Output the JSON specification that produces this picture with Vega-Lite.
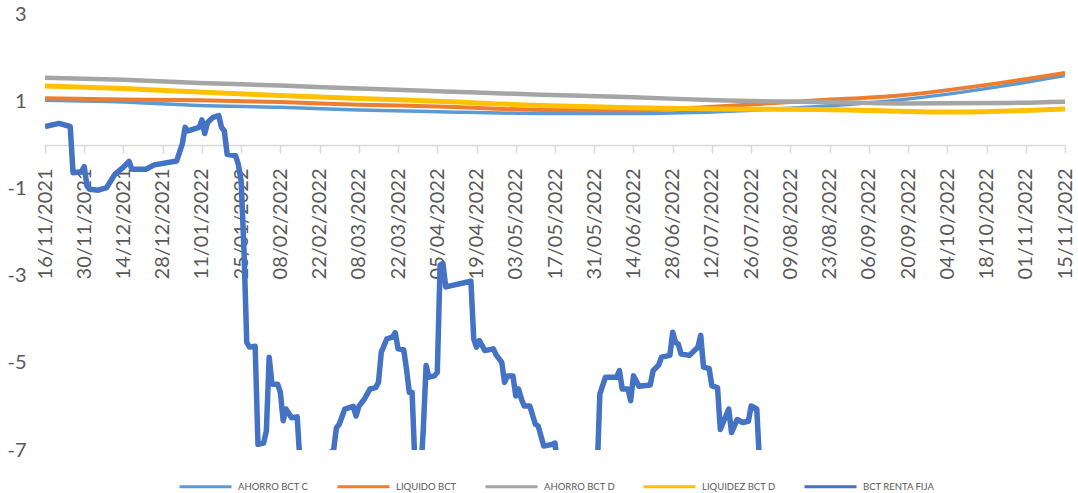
{
  "$schema": "https://vega.github.io/schema/vega-lite/v6.json",
  "width": 1020,
  "height": 436,
  "autosize": "none",
  "padding": {"left": 45, "top": 14, "right": 13, "bottom": 43},
  "config": {"view": {"stroke": null}, "font": "Lato", "axis": {"labelOverlap": false, "labelSeparation": 0}},
  "datasets": {
    "smooth": [
      {"date": "2021-11-16", "series": "AHORRO BCT C", "value": 1.02},
      {"date": "2021-12-14", "series": "AHORRO BCT C", "value": 0.98},
      {"date": "2022-01-10", "series": "AHORRO BCT C", "value": 0.90},
      {"date": "2022-02-08", "series": "AHORRO BCT C", "value": 0.86},
      {"date": "2022-03-08", "series": "AHORRO BCT C", "value": 0.80},
      {"date": "2022-04-05", "series": "AHORRO BCT C", "value": 0.76},
      {"date": "2022-05-12", "series": "AHORRO BCT C", "value": 0.72},
      {"date": "2022-06-14", "series": "AHORRO BCT C", "value": 0.72},
      {"date": "2022-07-14", "series": "AHORRO BCT C", "value": 0.76},
      {"date": "2022-08-19", "series": "AHORRO BCT C", "value": 0.88},
      {"date": "2022-09-17", "series": "AHORRO BCT C", "value": 1.03},
      {"date": "2022-10-23", "series": "AHORRO BCT C", "value": 1.34},
      {"date": "2022-11-15", "series": "AHORRO BCT C", "value": 1.59},
      {"date": "2021-11-16", "series": "LIQUIDO BCT", "value": 1.07},
      {"date": "2021-12-14", "series": "LIQUIDO BCT", "value": 1.04},
      {"date": "2022-01-10", "series": "LIQUIDO BCT", "value": 1.02},
      {"date": "2022-02-08", "series": "LIQUIDO BCT", "value": 0.98},
      {"date": "2022-03-08", "series": "LIQUIDO BCT", "value": 0.92},
      {"date": "2022-04-05", "series": "LIQUIDO BCT", "value": 0.88},
      {"date": "2022-05-12", "series": "LIQUIDO BCT", "value": 0.80},
      {"date": "2022-06-14", "series": "LIQUIDO BCT", "value": 0.79},
      {"date": "2022-07-14", "series": "LIQUIDO BCT", "value": 0.88},
      {"date": "2022-08-19", "series": "LIQUIDO BCT", "value": 1.02},
      {"date": "2022-09-17", "series": "LIQUIDO BCT", "value": 1.13},
      {"date": "2022-10-23", "series": "LIQUIDO BCT", "value": 1.42},
      {"date": "2022-11-15", "series": "LIQUIDO BCT", "value": 1.65},
      {"date": "2021-11-16", "series": "AHORRO BCT D", "value": 1.54},
      {"date": "2021-12-14", "series": "AHORRO BCT D", "value": 1.49},
      {"date": "2022-01-10", "series": "AHORRO BCT D", "value": 1.42},
      {"date": "2022-02-08", "series": "AHORRO BCT D", "value": 1.36},
      {"date": "2022-03-08", "series": "AHORRO BCT D", "value": 1.29},
      {"date": "2022-04-05", "series": "AHORRO BCT D", "value": 1.23},
      {"date": "2022-05-12", "series": "AHORRO BCT D", "value": 1.15},
      {"date": "2022-06-14", "series": "AHORRO BCT D", "value": 1.09},
      {"date": "2022-07-14", "series": "AHORRO BCT D", "value": 1.02},
      {"date": "2022-08-19", "series": "AHORRO BCT D", "value": 0.98},
      {"date": "2022-09-17", "series": "AHORRO BCT D", "value": 0.95},
      {"date": "2022-10-23", "series": "AHORRO BCT D", "value": 0.96},
      {"date": "2022-11-15", "series": "AHORRO BCT D", "value": 0.99},
      {"date": "2021-11-16", "series": "LIQUIDEZ BCT D", "value": 1.35},
      {"date": "2021-12-14", "series": "LIQUIDEZ BCT D", "value": 1.29},
      {"date": "2022-01-10", "series": "LIQUIDEZ BCT D", "value": 1.21},
      {"date": "2022-02-08", "series": "LIQUIDEZ BCT D", "value": 1.13},
      {"date": "2022-03-08", "series": "LIQUIDEZ BCT D", "value": 1.06},
      {"date": "2022-04-05", "series": "LIQUIDEZ BCT D", "value": 1.00},
      {"date": "2022-05-12", "series": "LIQUIDEZ BCT D", "value": 0.90},
      {"date": "2022-06-14", "series": "LIQUIDEZ BCT D", "value": 0.85},
      {"date": "2022-07-14", "series": "LIQUIDEZ BCT D", "value": 0.82},
      {"date": "2022-08-19", "series": "LIQUIDEZ BCT D", "value": 0.81},
      {"date": "2022-09-17", "series": "LIQUIDEZ BCT D", "value": 0.77},
      {"date": "2022-10-01", "series": "LIQUIDEZ BCT D", "value": 0.75},
      {"date": "2022-10-23", "series": "LIQUIDEZ BCT D", "value": 0.77},
      {"date": "2022-11-15", "series": "LIQUIDEZ BCT D", "value": 0.82}
    ],
    "renta": [
      {"date": "2021-11-16", "series": "BCT RENTA FIJA", "value": 0.42},
      {"date": "2021-11-21", "series": "BCT RENTA FIJA", "value": 0.49},
      {"date": "2021-11-25", "series": "BCT RENTA FIJA", "value": 0.42},
      {"date": "2021-11-26", "series": "BCT RENTA FIJA", "value": -0.64},
      {"date": "2021-11-29", "series": "BCT RENTA FIJA", "value": -0.62},
      {"date": "2021-11-30", "series": "BCT RENTA FIJA", "value": -0.5},
      {"date": "2021-12-01", "series": "BCT RENTA FIJA", "value": -0.95},
      {"date": "2021-12-02", "series": "BCT RENTA FIJA", "value": -1.02},
      {"date": "2021-12-05", "series": "BCT RENTA FIJA", "value": -1.04},
      {"date": "2021-12-08", "series": "BCT RENTA FIJA", "value": -0.98},
      {"date": "2021-12-11", "series": "BCT RENTA FIJA", "value": -0.67},
      {"date": "2021-12-14", "series": "BCT RENTA FIJA", "value": -0.51},
      {"date": "2021-12-16", "series": "BCT RENTA FIJA", "value": -0.38},
      {"date": "2021-12-17", "series": "BCT RENTA FIJA", "value": -0.56},
      {"date": "2021-12-22", "series": "BCT RENTA FIJA", "value": -0.56},
      {"date": "2021-12-25", "series": "BCT RENTA FIJA", "value": -0.46},
      {"date": "2022-01-02", "series": "BCT RENTA FIJA", "value": -0.37},
      {"date": "2022-01-04", "series": "BCT RENTA FIJA", "value": 0.02},
      {"date": "2022-01-05", "series": "BCT RENTA FIJA", "value": 0.4},
      {"date": "2022-01-06", "series": "BCT RENTA FIJA", "value": 0.32},
      {"date": "2022-01-10", "series": "BCT RENTA FIJA", "value": 0.4},
      {"date": "2022-01-11", "series": "BCT RENTA FIJA", "value": 0.57},
      {"date": "2022-01-12", "series": "BCT RENTA FIJA", "value": 0.26},
      {"date": "2022-01-13", "series": "BCT RENTA FIJA", "value": 0.51},
      {"date": "2022-01-15", "series": "BCT RENTA FIJA", "value": 0.63},
      {"date": "2022-01-17", "series": "BCT RENTA FIJA", "value": 0.67},
      {"date": "2022-01-18", "series": "BCT RENTA FIJA", "value": 0.4},
      {"date": "2022-01-19", "series": "BCT RENTA FIJA", "value": 0.32},
      {"date": "2022-01-20", "series": "BCT RENTA FIJA", "value": -0.22},
      {"date": "2022-01-23", "series": "BCT RENTA FIJA", "value": -0.25},
      {"date": "2022-01-24", "series": "BCT RENTA FIJA", "value": -0.45},
      {"date": "2022-01-25", "series": "BCT RENTA FIJA", "value": -0.83},
      {"date": "2022-01-26", "series": "BCT RENTA FIJA", "value": -2.4},
      {"date": "2022-01-27", "series": "BCT RENTA FIJA", "value": -4.53},
      {"date": "2022-01-28", "series": "BCT RENTA FIJA", "value": -4.64},
      {"date": "2022-01-30", "series": "BCT RENTA FIJA", "value": -4.62},
      {"date": "2022-01-31", "series": "BCT RENTA FIJA", "value": -6.87},
      {"date": "2022-02-02", "series": "BCT RENTA FIJA", "value": -6.84},
      {"date": "2022-02-03", "series": "BCT RENTA FIJA", "value": -6.56},
      {"date": "2022-02-04", "series": "BCT RENTA FIJA", "value": -4.87},
      {"date": "2022-02-05", "series": "BCT RENTA FIJA", "value": -5.49},
      {"date": "2022-02-07", "series": "BCT RENTA FIJA", "value": -5.49},
      {"date": "2022-02-08", "series": "BCT RENTA FIJA", "value": -5.68},
      {"date": "2022-02-09", "series": "BCT RENTA FIJA", "value": -6.33},
      {"date": "2022-02-10", "series": "BCT RENTA FIJA", "value": -6.06},
      {"date": "2022-02-12", "series": "BCT RENTA FIJA", "value": -6.26},
      {"date": "2022-02-14", "series": "BCT RENTA FIJA", "value": -6.24},
      {"date": "2022-02-15", "series": "BCT RENTA FIJA", "value": -7.3},
      {"date": "2022-02-17", "series": "BCT RENTA FIJA", "value": -7.8},
      {"date": "2022-02-23", "series": "BCT RENTA FIJA", "value": -7.6},
      {"date": "2022-02-25", "series": "BCT RENTA FIJA", "value": -7.1},
      {"date": "2022-02-27", "series": "BCT RENTA FIJA", "value": -7.0},
      {"date": "2022-02-28", "series": "BCT RENTA FIJA", "value": -6.49},
      {"date": "2022-03-01", "series": "BCT RENTA FIJA", "value": -6.41},
      {"date": "2022-03-03", "series": "BCT RENTA FIJA", "value": -6.06},
      {"date": "2022-03-06", "series": "BCT RENTA FIJA", "value": -6.0},
      {"date": "2022-03-07", "series": "BCT RENTA FIJA", "value": -6.22},
      {"date": "2022-03-08", "series": "BCT RENTA FIJA", "value": -6.0},
      {"date": "2022-03-10", "series": "BCT RENTA FIJA", "value": -5.83},
      {"date": "2022-03-12", "series": "BCT RENTA FIJA", "value": -5.6},
      {"date": "2022-03-14", "series": "BCT RENTA FIJA", "value": -5.57},
      {"date": "2022-03-15", "series": "BCT RENTA FIJA", "value": -5.45},
      {"date": "2022-03-16", "series": "BCT RENTA FIJA", "value": -4.76},
      {"date": "2022-03-18", "series": "BCT RENTA FIJA", "value": -4.45},
      {"date": "2022-03-20", "series": "BCT RENTA FIJA", "value": -4.41},
      {"date": "2022-03-21", "series": "BCT RENTA FIJA", "value": -4.31},
      {"date": "2022-03-22", "series": "BCT RENTA FIJA", "value": -4.68},
      {"date": "2022-03-24", "series": "BCT RENTA FIJA", "value": -4.7},
      {"date": "2022-03-25", "series": "BCT RENTA FIJA", "value": -5.14},
      {"date": "2022-03-26", "series": "BCT RENTA FIJA", "value": -5.68},
      {"date": "2022-03-27", "series": "BCT RENTA FIJA", "value": -5.68},
      {"date": "2022-03-28", "series": "BCT RENTA FIJA", "value": -7.3},
      {"date": "2022-03-30", "series": "BCT RENTA FIJA", "value": -7.6},
      {"date": "2022-03-31", "series": "BCT RENTA FIJA", "value": -6.53},
      {"date": "2022-04-01", "series": "BCT RENTA FIJA", "value": -5.06},
      {"date": "2022-04-02", "series": "BCT RENTA FIJA", "value": -5.33},
      {"date": "2022-04-04", "series": "BCT RENTA FIJA", "value": -5.3},
      {"date": "2022-04-05", "series": "BCT RENTA FIJA", "value": -5.22},
      {"date": "2022-04-06", "series": "BCT RENTA FIJA", "value": -2.76},
      {"date": "2022-04-07", "series": "BCT RENTA FIJA", "value": -2.72},
      {"date": "2022-04-08", "series": "BCT RENTA FIJA", "value": -3.26},
      {"date": "2022-04-17", "series": "BCT RENTA FIJA", "value": -3.13},
      {"date": "2022-04-18", "series": "BCT RENTA FIJA", "value": -4.45},
      {"date": "2022-04-19", "series": "BCT RENTA FIJA", "value": -4.64},
      {"date": "2022-04-20", "series": "BCT RENTA FIJA", "value": -4.49},
      {"date": "2022-04-22", "series": "BCT RENTA FIJA", "value": -4.72},
      {"date": "2022-04-25", "series": "BCT RENTA FIJA", "value": -4.68},
      {"date": "2022-04-26", "series": "BCT RENTA FIJA", "value": -4.82},
      {"date": "2022-04-28", "series": "BCT RENTA FIJA", "value": -4.99},
      {"date": "2022-04-29", "series": "BCT RENTA FIJA", "value": -5.45},
      {"date": "2022-04-30", "series": "BCT RENTA FIJA", "value": -5.3},
      {"date": "2022-05-02", "series": "BCT RENTA FIJA", "value": -5.3},
      {"date": "2022-05-03", "series": "BCT RENTA FIJA", "value": -5.76},
      {"date": "2022-05-04", "series": "BCT RENTA FIJA", "value": -5.6},
      {"date": "2022-05-05", "series": "BCT RENTA FIJA", "value": -5.83},
      {"date": "2022-05-06", "series": "BCT RENTA FIJA", "value": -5.99},
      {"date": "2022-05-08", "series": "BCT RENTA FIJA", "value": -5.99},
      {"date": "2022-05-10", "series": "BCT RENTA FIJA", "value": -6.41},
      {"date": "2022-05-11", "series": "BCT RENTA FIJA", "value": -6.45},
      {"date": "2022-05-13", "series": "BCT RENTA FIJA", "value": -6.91},
      {"date": "2022-05-16", "series": "BCT RENTA FIJA", "value": -6.87},
      {"date": "2022-05-17", "series": "BCT RENTA FIJA", "value": -6.84},
      {"date": "2022-05-18", "series": "BCT RENTA FIJA", "value": -7.4},
      {"date": "2022-05-22", "series": "BCT RENTA FIJA", "value": -8.0},
      {"date": "2022-05-30", "series": "BCT RENTA FIJA", "value": -8.0},
      {"date": "2022-06-01", "series": "BCT RENTA FIJA", "value": -7.6},
      {"date": "2022-06-02", "series": "BCT RENTA FIJA", "value": -5.72},
      {"date": "2022-06-04", "series": "BCT RENTA FIJA", "value": -5.33},
      {"date": "2022-06-06", "series": "BCT RENTA FIJA", "value": -5.33},
      {"date": "2022-06-08", "series": "BCT RENTA FIJA", "value": -5.33},
      {"date": "2022-06-09", "series": "BCT RENTA FIJA", "value": -5.18},
      {"date": "2022-06-10", "series": "BCT RENTA FIJA", "value": -5.6},
      {"date": "2022-06-12", "series": "BCT RENTA FIJA", "value": -5.6},
      {"date": "2022-06-13", "series": "BCT RENTA FIJA", "value": -5.87},
      {"date": "2022-06-14", "series": "BCT RENTA FIJA", "value": -5.3},
      {"date": "2022-06-16", "series": "BCT RENTA FIJA", "value": -5.54},
      {"date": "2022-06-20", "series": "BCT RENTA FIJA", "value": -5.51},
      {"date": "2022-06-21", "series": "BCT RENTA FIJA", "value": -5.18},
      {"date": "2022-06-23", "series": "BCT RENTA FIJA", "value": -5.05},
      {"date": "2022-06-24", "series": "BCT RENTA FIJA", "value": -4.87},
      {"date": "2022-06-27", "series": "BCT RENTA FIJA", "value": -4.83},
      {"date": "2022-06-28", "series": "BCT RENTA FIJA", "value": -4.3},
      {"date": "2022-06-29", "series": "BCT RENTA FIJA", "value": -4.53},
      {"date": "2022-06-30", "series": "BCT RENTA FIJA", "value": -4.57},
      {"date": "2022-07-01", "series": "BCT RENTA FIJA", "value": -4.8},
      {"date": "2022-07-04", "series": "BCT RENTA FIJA", "value": -4.83},
      {"date": "2022-07-07", "series": "BCT RENTA FIJA", "value": -4.64},
      {"date": "2022-07-08", "series": "BCT RENTA FIJA", "value": -4.37},
      {"date": "2022-07-09", "series": "BCT RENTA FIJA", "value": -5.1},
      {"date": "2022-07-11", "series": "BCT RENTA FIJA", "value": -5.13},
      {"date": "2022-07-12", "series": "BCT RENTA FIJA", "value": -5.53},
      {"date": "2022-07-14", "series": "BCT RENTA FIJA", "value": -5.57},
      {"date": "2022-07-15", "series": "BCT RENTA FIJA", "value": -6.53},
      {"date": "2022-07-18", "series": "BCT RENTA FIJA", "value": -6.06},
      {"date": "2022-07-19", "series": "BCT RENTA FIJA", "value": -6.6},
      {"date": "2022-07-21", "series": "BCT RENTA FIJA", "value": -6.3},
      {"date": "2022-07-23", "series": "BCT RENTA FIJA", "value": -6.37},
      {"date": "2022-07-25", "series": "BCT RENTA FIJA", "value": -6.34},
      {"date": "2022-07-26", "series": "BCT RENTA FIJA", "value": -5.99},
      {"date": "2022-07-28", "series": "BCT RENTA FIJA", "value": -6.06},
      {"date": "2022-07-29", "series": "BCT RENTA FIJA", "value": -7.3},
      {"date": "2022-07-30", "series": "BCT RENTA FIJA", "value": -8.0}
    ]
  },
  "encoding": {
    "x": {
      "field": "date", "type": "temporal",
      "scale": {"type": "utc", "domain": [1637020800000, 1668470400000]},
      "axis": {
        "title": null,
        "offset": -305,
        "values": [1637020800000, 1638230400000, 1639440000000, 1640649600000, 1641859200000, 1643068800000, 1644278400000, 1645488000000, 1646697600000, 1647907200000, 1649116800000, 1650326400000, 1651536000000, 1652745600000, 1653955200000, 1655164800000, 1656374400000, 1657584000000, 1658793600000, 1660003200000, 1661212800000, 1662422400000, 1663632000000, 1664841600000, 1666051200000, 1667260800000, 1668470400000],
        "labelExpr": "utcFormat(datum.value, '%d/%m/%Y')",
        "labelAngle": -90,
        "labelFont": "Lato",
        "labelFontSize": 20,
        "labelColor": "#595959",
        "labelPadding": 15,
        "labelFlush": false,
        "labelOverlap": false,
        "labelSeparation": 0,
        "grid": false,
        "domainColor": "#d9d9d9",
        "domainWidth": 1.5,
        "tickColor": "#d9d9d9",
        "tickWidth": 1.5,
        "tickSize": 8
      }
    },
    "y": {
      "field": "value", "type": "quantitative",
      "scale": {"domain": [-7, 3], "nice": false, "zero": false},
      "axis": {
        "title": null,
        "values": [-7, -5, -3, -1, 1, 3],
        "labelExpr": "(datum.value < 0 ? '-' : '') + abs(datum.value)",
        "domain": false,
        "ticks": false,
        "grid": false,
        "labelFont": "Lato",
        "labelFontSize": 20,
        "labelColor": "#595959",
        "labelPadding": 19
      }
    },
    "color": {
      "field": "series", "type": "nominal",
      "scale": {
        "domain": ["AHORRO BCT C", "LIQUIDO BCT", "AHORRO BCT D", "LIQUIDEZ BCT D", "BCT RENTA FIJA"],
        "range": ["#5B9BD5", "#ED7D31", "#A5A5A5", "#FFC000", "#4472C4"]
      },
      "legend": {
        "title": null,
        "orient": "none",
        "legendX": 133,
        "legendY": 445,
        "direction": "horizontal",
        "symbolType": "stroke",
        "symbolSize": 2704,
        "symbolStrokeWidth": 3,
        "labelFont": "Lato",
        "labelFontSize": 9.5,
        "labelColor": "#595959",
        "labelOffset": 5,
        "columnPadding": 22,
        "padding": 0
      }
    }
  },
  "layer": [
    {
      "data": {"name": "smooth"},
      "mark": {"type": "line", "interpolate": "monotone", "clip": true},
      "encoding": {
        "strokeWidth": {
          "field": "series", "type": "ordinal",
          "scale": {"domain": ["AHORRO BCT C", "LIQUIDO BCT", "AHORRO BCT D", "LIQUIDEZ BCT D"], "range": [3.5, 5, 5, 5]},
          "legend": null
        }
      }
    },
    {
      "data": {"name": "renta"},
      "mark": {"type": "line", "clip": true, "strokeWidth": 5.5, "strokeJoin": "round"},
      "encoding": {}
    }
  ]
}
